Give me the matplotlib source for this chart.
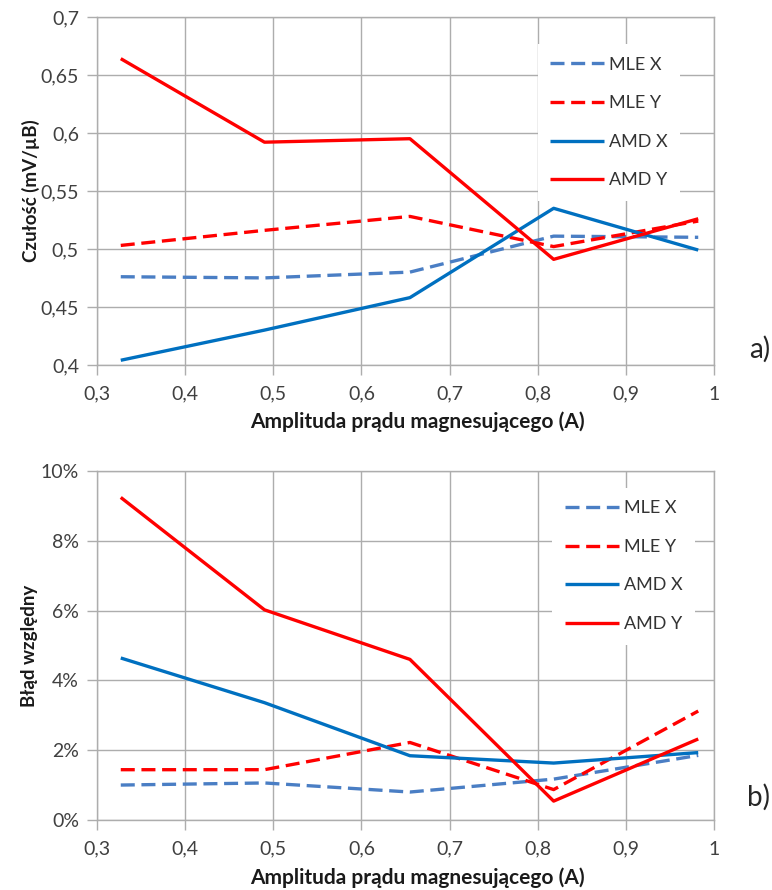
import matplotlib
matplotlib.use("Agg")
import matplotlib.pyplot as plt
from matplotlib.ticker import FuncFormatter, MultipleLocator

plt.rcParams['font.family'] = ['Lato', 'DejaVu Sans']

# Magnetising current amplitude (A)
current = [0.327, 0.490, 0.655, 0.818, 0.982]

# Sensitivity (mV/µB)
sens_mle_x = [0.476, 0.475, 0.480, 0.511, 0.510]
sens_mle_y = [0.503, 0.516, 0.528, 0.502, 0.524]
sens_amd_x = [0.404, 0.430, 0.458, 0.535, 0.499]
sens_amd_y = [0.664, 0.592, 0.595, 0.491, 0.526]

# Relative error (%)
err_mle_x = [1.00, 1.06, 0.80, 1.17, 1.85]
err_mle_y = [1.44, 1.44, 2.22, 0.87, 3.12]
err_amd_x = [4.64, 3.36, 1.84, 1.63, 1.93]
err_amd_y = [9.24, 6.02, 4.60, 0.54, 2.32]

labels = ["MLE X", "MLE Y", "AMD X", "AMD Y"]
colors = ["#4A7EC4", "#FF0000", "#0070C0", "#FF0000"]
styles = [(0, (4.2, 2.0)), (0, (4.2, 2.0)), "-", "-"]

x_label = "Amplituda prądu magnesującego (A)"

fig = plt.figure(figsize=(7.72, 8.90), dpi=100)
ax1 = fig.add_axes([0.1256, 0.590, 0.7994, 0.391])
ax2 = fig.add_axes([0.1256, 0.0787, 0.7994, 0.3922])

tick_color = "#404040"
grid_color = "#ADADAD"


def style_axes(ax):
    ax.set_xlim(0.3, 1.0)
    ax.xaxis.set_major_locator(MultipleLocator(0.1))
    ax.xaxis.set_major_formatter(FuncFormatter(
        lambda v, p: ("%g" % round(v, 2)).replace(".", ",")))
    ax.grid(True, color=grid_color, linewidth=1.0)
    ax.set_axisbelow(True)
    for s in ax.spines.values():
        s.set_color(grid_color)
        s.set_linewidth(1.0)
    ax.tick_params(axis="both", colors=grid_color, labelcolor=tick_color,
                   labelsize=14, length=7, width=1.0)
    ax.tick_params(axis="x", pad=8)
    ax.tick_params(axis="y", pad=6)
    ax.set_xlabel(x_label, fontsize=15, fontweight="bold", color="#1a1a1a")
    ax.xaxis.set_label_coords(0.519, -0.135)


for ax, series in ((ax1, (sens_mle_x, sens_mle_y, sens_amd_x, sens_amd_y)),
                   (ax2, (err_mle_x, err_mle_y, err_amd_x, err_amd_y))):
    for vals, lab, col, ls in zip(series, labels, colors, styles):
        ax.plot(current, vals, color=col, linestyle=ls, linewidth=2.4,
                label=lab, solid_capstyle="butt", dash_capstyle="butt")
    style_axes(ax)

ax1.set_ylim(0.4, 0.7)
ax1.yaxis.set_major_locator(MultipleLocator(0.05))
ax1.yaxis.set_major_formatter(FuncFormatter(
    lambda v, p: ("%g" % round(v, 3)).replace(".", ",")))
ax1.set_ylabel("Czułość (mV/µB)", fontsize=13.5, fontweight="bold",
               labelpad=0, color="#1a1a1a")

ax2.set_ylim(0, 10)
ax2.yaxis.set_major_locator(MultipleLocator(2))
ax2.yaxis.set_major_formatter(FuncFormatter(lambda v, p: "%d%%" % round(v)))
ax2.set_ylabel("Błąd względny", fontsize=13.5, fontweight="bold",
               labelpad=2, color="#1a1a1a")

for ax, anchor in ((ax1, (0.945, 0.922)), (ax2, (0.969, 0.952))):
    leg = ax.legend(loc="upper right", bbox_to_anchor=anchor, frameon=True,
                    fontsize=13, handlelength=3.0, handletextpad=0.25,
                    labelspacing=1.25, borderpad=0.7, borderaxespad=0)
    leg.get_frame().set_facecolor("white")
    leg.get_frame().set_edgecolor("none")
    leg.get_frame().set_alpha(1.0)
    leg.get_frame().set_boxstyle("square", pad=0)
    for t in leg.get_texts():
        t.set_color("#333333")

fig.text(0.998, 0.608, "a)", fontsize=20, color="#262626", ha="right", va="center")
fig.text(0.998, 0.104, "b)", fontsize=20, color="#262626", ha="right", va="center")

fig.savefig("out.png", dpi=100, facecolor="white")
